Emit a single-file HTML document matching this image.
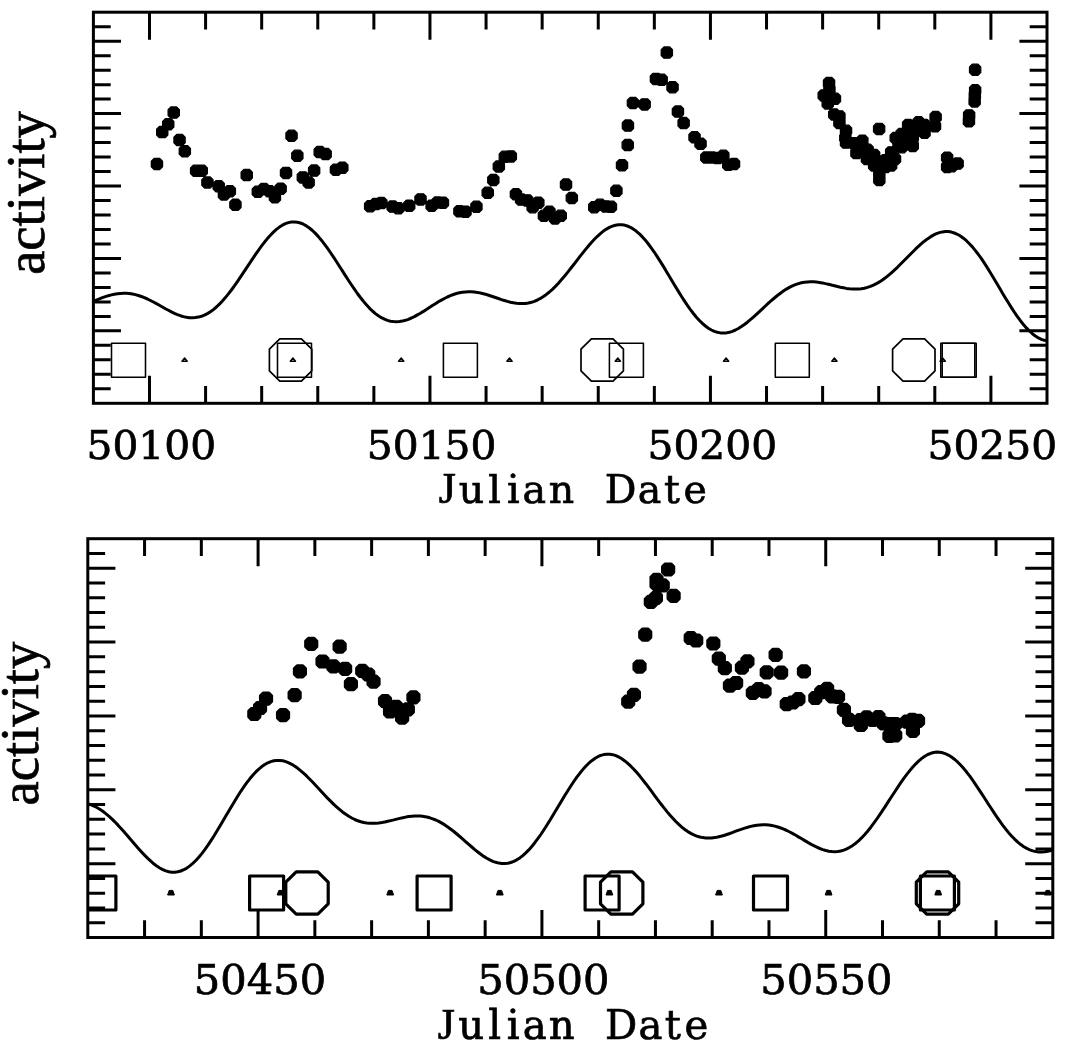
<!DOCTYPE html>
<html><head><meta charset="utf-8"><title>activity vs Julian Date</title>
<style>html,body{margin:0;padding:0;background:#fff}svg{display:block}.tk{font-family:"DejaVu Serif","Liberation Serif",serif;font-size:39.4px;fill:#000;stroke:#000;stroke-width:.7px;text-anchor:middle}.ax{font-family:"DejaVu Serif","Liberation Serif",serif;font-size:39.5px;fill:#000;stroke:#000;stroke-width:.7px;text-anchor:middle}.J{font-family:"Liberation Serif",serif;font-size:44px}.yl{font-family:"Liberation Serif",serif;font-size:54.6px;fill:#000;stroke:#000;stroke-width:.7px;text-anchor:middle}</style></head><body>
<svg width="1070" height="1060" viewBox="0 0 1070 1060">
<rect width="1070" height="1060" fill="#fff"/>
<g id="panel1">
<polyline points="93.4,301.3 96.4,300.1 99.4,298.9 102.4,297.7 105.4,296.7 108.4,295.7 111.4,294.9 114.4,294.2 117.4,293.7 120.4,293.4 123.4,293.2 126.4,293.3 129.4,293.5 132.4,294.0 135.4,294.6 138.4,295.5 141.4,296.5 144.4,297.7 147.4,299.0 150.4,300.5 153.4,302.0 156.4,303.6 159.4,305.3 162.4,307.0 165.4,308.7 168.4,310.3 171.4,311.9 174.4,313.3 177.4,314.6 180.4,315.7 183.4,316.6 186.4,317.3 189.4,317.7 192.4,317.8 195.4,317.6 198.4,317.1 201.4,316.3 204.4,315.1 207.4,313.6 210.4,311.8 213.4,309.6 216.4,307.0 219.4,304.2 222.4,301.0 225.4,297.6 228.4,293.9 231.4,290.0 234.4,285.9 237.4,281.6 240.4,277.2 243.4,272.7 246.4,268.1 249.4,263.6 252.4,259.1 255.4,254.6 258.4,250.3 261.4,246.2 264.4,242.3 267.4,238.6 270.4,235.2 273.4,232.1 276.4,229.4 279.4,227.1 282.4,225.2 285.4,223.7 288.4,222.6 291.4,222.0 294.4,221.9 297.4,222.2 300.4,223.0 303.4,224.2 306.4,225.9 309.4,228.0 312.4,230.5 315.4,233.4 318.4,236.6 321.4,240.2 324.4,244.1 327.4,248.2 330.4,252.5 333.4,256.9 336.4,261.5 339.4,266.2 342.4,270.9 345.4,275.6 348.4,280.2 351.4,284.8 354.4,289.2 357.4,293.5 360.4,297.5 363.4,301.3 366.4,304.8 369.4,308.1 372.4,311.0 375.4,313.6 378.4,315.8 381.4,317.7 384.4,319.2 387.4,320.4 390.4,321.2 393.4,321.6 396.4,321.8 399.4,321.6 402.4,321.1 405.4,320.3 408.4,319.3 411.4,318.0 414.4,316.6 417.4,314.9 420.4,313.2 423.4,311.4 426.4,309.4 429.4,307.5 432.4,305.6 435.4,303.7 438.4,301.8 441.4,300.1 444.4,298.5 447.4,297.0 450.4,295.7 453.4,294.5 456.4,293.5 459.4,292.8 462.4,292.2 465.4,291.9 468.4,291.7 471.4,291.8 474.4,292.0 477.4,292.4 480.4,293.0 483.4,293.7 486.4,294.5 489.4,295.5 492.4,296.5 495.4,297.5 498.4,298.5 501.4,299.6 504.4,300.5 507.4,301.4 510.4,302.2 513.4,302.8 516.4,303.3 519.4,303.5 522.4,303.6 525.4,303.4 528.4,303.0 531.4,302.3 534.4,301.3 537.4,300.0 540.4,298.4 543.4,296.5 546.4,294.4 549.4,292.0 552.4,289.3 555.4,286.4 558.4,283.2 561.4,279.8 564.4,276.3 567.4,272.6 570.4,268.8 573.4,265.0 576.4,261.1 579.4,257.2 582.4,253.4 585.4,249.6 588.4,246.0 591.4,242.5 594.4,239.3 597.4,236.3 600.4,233.6 603.4,231.1 606.4,229.1 609.4,227.4 612.4,226.1 615.4,225.2 618.4,224.7 621.4,224.7 624.4,225.1 627.4,226.0 630.4,227.3 633.4,229.1 636.4,231.3 639.4,233.9 642.4,236.9 645.4,240.3 648.4,244.0 651.4,248.1 654.4,252.3 657.4,256.9 660.4,261.6 663.4,266.4 666.4,271.4 669.4,276.4 672.4,281.5 675.4,286.5 678.4,291.4 681.4,296.3 684.4,300.9 687.4,305.4 690.4,309.6 693.4,313.5 696.4,317.2 699.4,320.5 702.4,323.4 705.4,326.0 708.4,328.2 711.4,330.0 714.4,331.4 717.4,332.3 720.4,332.9 723.4,333.1 726.4,332.9 729.4,332.3 732.4,331.3 735.4,330.0 738.4,328.5 741.4,326.6 744.4,324.5 747.4,322.2 750.4,319.7 753.4,317.1 756.4,314.4 759.4,311.6 762.4,308.8 765.4,306.0 768.4,303.2 771.4,300.5 774.4,298.0 777.4,295.5 780.4,293.2 783.4,291.1 786.4,289.1 789.4,287.4 792.4,285.9 795.4,284.7 798.4,283.6 801.4,282.8 804.4,282.3 807.4,281.9 810.4,281.8 813.4,281.8 816.4,282.1 819.4,282.4 822.4,282.9 825.4,283.6 828.4,284.2 831.4,285.0 834.4,285.7 837.4,286.5 840.4,287.2 843.4,287.8 846.4,288.4 849.4,288.8 852.4,289.0 855.4,289.1 858.4,289.0 861.4,288.7 864.4,288.2 867.4,287.4 870.4,286.4 873.4,285.1 876.4,283.7 879.4,281.9 882.4,280.0 885.4,277.8 888.4,275.4 891.4,272.8 894.4,270.1 897.4,267.3 900.4,264.3 903.4,261.3 906.4,258.2 909.4,255.2 912.4,252.2 915.4,249.2 918.4,246.4 921.4,243.7 924.4,241.2 927.4,238.9 930.4,236.9 933.4,235.1 936.4,233.7 939.4,232.6 942.4,231.9 945.4,231.6 948.4,231.6 951.4,232.1 954.4,233.0 957.4,234.3 960.4,236.0 963.4,238.2 966.4,240.7 969.4,243.7 972.4,246.9 975.4,250.6 978.4,254.5 981.4,258.7 984.4,263.2 987.4,267.9 990.4,272.7 993.4,277.7 996.4,282.7 999.4,287.8 1002.4,292.9 1005.4,297.9 1008.4,302.8 1011.4,307.6 1014.4,312.2 1017.4,316.6 1020.4,320.7 1023.4,324.5 1026.4,327.9 1029.4,331.0 1032.4,333.7 1035.4,336.0 1038.4,337.9 1041.4,339.3 1044.4,340.3 1047.0,340.8" fill="none" stroke="#000" stroke-width="3.0" stroke-linejoin="round"/>
<rect x="111.5" y="343.2" width="34.0" height="34.0" fill="none" stroke="#000" stroke-width="1.55" stroke-linejoin="round"/>
<rect x="277.5" y="343.2" width="34.0" height="34.0" fill="none" stroke="#000" stroke-width="1.55" stroke-linejoin="round"/>
<rect x="443.4" y="343.2" width="34.0" height="34.0" fill="none" stroke="#000" stroke-width="1.55" stroke-linejoin="round"/>
<rect x="609.4" y="343.2" width="34.0" height="34.0" fill="none" stroke="#000" stroke-width="1.55" stroke-linejoin="round"/>
<rect x="775.3" y="343.2" width="34.0" height="34.0" fill="none" stroke="#000" stroke-width="1.55" stroke-linejoin="round"/>
<rect x="940.8" y="343.2" width="34.0" height="34.0" fill="none" stroke="#000" stroke-width="1.55" stroke-linejoin="round"/>
<rect x="942.2" y="343.2" width="34.0" height="34.0" fill="none" stroke="#000" stroke-width="1.55" stroke-linejoin="round"/>
<polygon points="279.8,338.8 301.4,338.8 311.8,349.2 311.8,370.8 301.4,381.2 279.8,381.2 269.4,370.8 269.4,349.2" fill="none" stroke="#000" stroke-width="1.7" stroke-linejoin="round"/>
<polygon points="591.4,338.8 613.0,338.8 623.4,349.2 623.4,370.8 613.0,381.2 591.4,381.2 581.0,370.8 581.0,349.2" fill="none" stroke="#000" stroke-width="1.7" stroke-linejoin="round"/>
<polygon points="903.0,338.8 924.6,338.8 935.0,349.2 935.0,370.8 924.6,381.2 903.0,381.2 892.6,370.8 892.6,349.2" fill="none" stroke="#000" stroke-width="1.7" stroke-linejoin="round"/>
<polygon points="184.6,358.1 187.2,361.2 182.0,361.2" fill="none" stroke="#000" stroke-width="1.5" stroke-linejoin="round"/>
<polygon points="292.9,358.1 295.5,361.2 290.3,361.2" fill="none" stroke="#000" stroke-width="1.5" stroke-linejoin="round"/>
<polygon points="401.2,358.1 403.8,361.2 398.6,361.2" fill="none" stroke="#000" stroke-width="1.5" stroke-linejoin="round"/>
<polygon points="509.5,358.1 512.1,361.2 506.9,361.2" fill="none" stroke="#000" stroke-width="1.5" stroke-linejoin="round"/>
<polygon points="617.8,358.1 620.4,361.2 615.2,361.2" fill="none" stroke="#000" stroke-width="1.5" stroke-linejoin="round"/>
<polygon points="726.1,358.1 728.7,361.2 723.5,361.2" fill="none" stroke="#000" stroke-width="1.5" stroke-linejoin="round"/>
<polygon points="834.4,358.1 837.0,361.2 831.8,361.2" fill="none" stroke="#000" stroke-width="1.5" stroke-linejoin="round"/>
<polygon points="942.7,358.1 945.3,361.2 940.1,361.2" fill="none" stroke="#000" stroke-width="1.5" stroke-linejoin="round"/>
<path d="M154.1 158.4h5.66l2.77 2.77v5.66l-2.77 2.77h-5.66l-2.77 -2.77v-5.66zM159.4 126.5h5.66l2.77 2.77v5.66l-2.77 2.77h-5.66l-2.77 -2.77v-5.66zM165.4 118.7h5.66l2.77 2.77v5.66l-2.77 2.77h-5.66l-2.77 -2.77v-5.66zM170.9 107.0h5.66l2.77 2.77v5.66l-2.77 2.77h-5.66l-2.77 -2.77v-5.66zM176.7 134.4h5.66l2.77 2.77v5.66l-2.77 2.77h-5.66l-2.77 -2.77v-5.66zM182.0 145.7h5.66l2.77 2.77v5.66l-2.77 2.77h-5.66l-2.77 -2.77v-5.66zM193.3 165.2h5.66l2.77 2.77v5.66l-2.77 2.77h-5.66l-2.77 -2.77v-5.66zM198.9 165.2h5.66l2.77 2.77v5.66l-2.77 2.77h-5.66l-2.77 -2.77v-5.66zM204.6 176.9h5.66l2.77 2.77v5.66l-2.77 2.77h-5.66l-2.77 -2.77v-5.66zM215.9 180.6h5.66l2.77 2.77v5.66l-2.77 2.77h-5.66l-2.77 -2.77v-5.66zM221.1 188.8h5.66l2.77 2.77v5.66l-2.77 2.77h-5.66l-2.77 -2.77v-5.66zM227.0 185.6h5.66l2.77 2.77v5.66l-2.77 2.77h-5.66l-2.77 -2.77v-5.66zM232.6 199.1h5.66l2.77 2.77v5.66l-2.77 2.77h-5.66l-2.77 -2.77v-5.66zM243.9 169.5h5.66l2.77 2.77v5.66l-2.77 2.77h-5.66l-2.77 -2.77v-5.66zM255.0 186.2h5.66l2.77 2.77v5.66l-2.77 2.77h-5.66l-2.77 -2.77v-5.66zM261.0 183.5h5.66l2.77 2.77v5.66l-2.77 2.77h-5.66l-2.77 -2.77v-5.66zM266.7 185.6h5.66l2.77 2.77v5.66l-2.77 2.77h-5.66l-2.77 -2.77v-5.66zM272.1 191.7h5.66l2.77 2.77v5.66l-2.77 2.77h-5.66l-2.77 -2.77v-5.66zM277.8 183.1h5.66l2.77 2.77v5.66l-2.77 2.77h-5.66l-2.77 -2.77v-5.66zM283.2 167.3h5.66l2.77 2.77v5.66l-2.77 2.77h-5.66l-2.77 -2.77v-5.66zM288.7 130.2h5.66l2.77 2.77v5.66l-2.77 2.77h-5.66l-2.77 -2.77v-5.66zM294.5 150.2h5.66l2.77 2.77v5.66l-2.77 2.77h-5.66l-2.77 -2.77v-5.66zM300.0 171.8h5.66l2.77 2.77v5.66l-2.77 2.77h-5.66l-2.77 -2.77v-5.66zM305.8 176.9h5.66l2.77 2.77v5.66l-2.77 2.77h-5.66l-2.77 -2.77v-5.66zM311.3 165.0h5.66l2.77 2.77v5.66l-2.77 2.77h-5.66l-2.77 -2.77v-5.66zM316.9 146.5h5.66l2.77 2.77v5.66l-2.77 2.77h-5.66l-2.77 -2.77v-5.66zM322.8 148.5h5.66l2.77 2.77v5.66l-2.77 2.77h-5.66l-2.77 -2.77v-5.66zM333.1 164.2h5.66l2.77 2.77v5.66l-2.77 2.77h-5.66l-2.77 -2.77v-5.66zM339.5 162.1h5.66l2.77 2.77v5.66l-2.77 2.77h-5.66l-2.77 -2.77v-5.66zM367.3 200.6h5.66l2.77 2.77v5.66l-2.77 2.77h-5.66l-2.77 -2.77v-5.66zM372.9 198.5h5.66l2.77 2.77v5.66l-2.77 2.77h-5.66l-2.77 -2.77v-5.66zM378.5 197.5h5.66l2.77 2.77v5.66l-2.77 2.77h-5.66l-2.77 -2.77v-5.66zM389.8 201.0h5.66l2.77 2.77v5.66l-2.77 2.77h-5.66l-2.77 -2.77v-5.66zM395.5 202.6h5.66l2.77 2.77v5.66l-2.77 2.77h-5.66l-2.77 -2.77v-5.66zM406.4 200.1h5.66l2.77 2.77v5.66l-2.77 2.77h-5.66l-2.77 -2.77v-5.66zM417.7 193.8h5.66l2.77 2.77v5.66l-2.77 2.77h-5.66l-2.77 -2.77v-5.66zM428.8 200.1h5.66l2.77 2.77v5.66l-2.77 2.77h-5.66l-2.77 -2.77v-5.66zM434.6 196.9h5.66l2.77 2.77v5.66l-2.77 2.77h-5.66l-2.77 -2.77v-5.66zM440.1 197.1h5.66l2.77 2.77v5.66l-2.77 2.77h-5.66l-2.77 -2.77v-5.66zM456.6 205.7h5.66l2.77 2.77v5.66l-2.77 2.77h-5.66l-2.77 -2.77v-5.66zM462.7 206.1h5.66l2.77 2.77v5.66l-2.77 2.77h-5.66l-2.77 -2.77v-5.66zM473.6 201.2h5.66l2.77 2.77v5.66l-2.77 2.77h-5.66l-2.77 -2.77v-5.66zM484.9 187.2h5.66l2.77 2.77v5.66l-2.77 2.77h-5.66l-2.77 -2.77v-5.66zM490.5 174.4h5.66l2.77 2.77v5.66l-2.77 2.77h-5.66l-2.77 -2.77v-5.66zM496.0 160.9h5.66l2.77 2.77v5.66l-2.77 2.77h-5.66l-2.77 -2.77v-5.66zM502.0 151.2h5.66l2.77 2.77v5.66l-2.77 2.77h-5.66l-2.77 -2.77v-5.66zM508.0 150.8h5.66l2.77 2.77v5.66l-2.77 2.77h-5.66l-2.77 -2.77v-5.66zM513.1 188.6h5.66l2.77 2.77v5.66l-2.77 2.77h-5.66l-2.77 -2.77v-5.66zM518.3 194.0h5.66l2.77 2.77v5.66l-2.77 2.77h-5.66l-2.77 -2.77v-5.66zM524.4 194.8h5.66l2.77 2.77v5.66l-2.77 2.77h-5.66l-2.77 -2.77v-5.66zM529.8 201.6h5.66l2.77 2.77v5.66l-2.77 2.77h-5.66l-2.77 -2.77v-5.66zM535.5 197.1h5.66l2.77 2.77v5.66l-2.77 2.77h-5.66l-2.77 -2.77v-5.66zM541.1 210.2h5.66l2.77 2.77v5.66l-2.77 2.77h-5.66l-2.77 -2.77v-5.66zM546.6 206.1h5.66l2.77 2.77v5.66l-2.77 2.77h-5.66l-2.77 -2.77v-5.66zM552.2 212.9h5.66l2.77 2.77v5.66l-2.77 2.77h-5.66l-2.77 -2.77v-5.66zM557.9 210.2h5.66l2.77 2.77v5.66l-2.77 2.77h-5.66l-2.77 -2.77v-5.66zM563.2 179.0h5.66l2.77 2.77v5.66l-2.77 2.77h-5.66l-2.77 -2.77v-5.66zM569.0 192.4h5.66l2.77 2.77v5.66l-2.77 2.77h-5.66l-2.77 -2.77v-5.66zM591.4 201.6h5.66l2.77 2.77v5.66l-2.77 2.77h-5.66l-2.77 -2.77v-5.66zM597.2 199.2h5.66l2.77 2.77v5.66l-2.77 2.77h-5.66l-2.77 -2.77v-5.66zM602.7 200.8h5.66l2.77 2.77v5.66l-2.77 2.77h-5.66l-2.77 -2.77v-5.66zM608.1 201.2h5.66l2.77 2.77v5.66l-2.77 2.77h-5.66l-2.77 -2.77v-5.66zM613.6 185.2h5.66l2.77 2.77v5.66l-2.77 2.77h-5.66l-2.77 -2.77v-5.66zM619.2 159.7h5.66l2.77 2.77v5.66l-2.77 2.77h-5.66l-2.77 -2.77v-5.66zM624.9 139.5h5.66l2.77 2.77v5.66l-2.77 2.77h-5.66l-2.77 -2.77v-5.66zM625.1 120.0h5.66l2.77 2.77v5.66l-2.77 2.77h-5.66l-2.77 -2.77v-5.66zM630.1 97.4h5.66l2.77 2.77v5.66l-2.77 2.77h-5.66l-2.77 -2.77v-5.66zM641.8 98.8h5.66l2.77 2.77v5.66l-2.77 2.77h-5.66l-2.77 -2.77v-5.66zM653.1 73.3h5.66l2.77 2.77v5.66l-2.77 2.77h-5.66l-2.77 -2.77v-5.66zM658.8 74.2h5.66l2.77 2.77v5.66l-2.77 2.77h-5.66l-2.77 -2.77v-5.66zM664.0 47.0h5.66l2.77 2.77v5.66l-2.77 2.77h-5.66l-2.77 -2.77v-5.66zM669.7 81.6h5.66l2.77 2.77v5.66l-2.77 2.77h-5.66l-2.77 -2.77v-5.66zM675.1 106.0h5.66l2.77 2.77v5.66l-2.77 2.77h-5.66l-2.77 -2.77v-5.66zM680.8 117.5h5.66l2.77 2.77v5.66l-2.77 2.77h-5.66l-2.77 -2.77v-5.66zM691.7 131.7h5.66l2.77 2.77v5.66l-2.77 2.77h-5.66l-2.77 -2.77v-5.66zM697.7 138.1h5.66l2.77 2.77v5.66l-2.77 2.77h-5.66l-2.77 -2.77v-5.66zM703.5 151.9h5.66l2.77 2.77v5.66l-2.77 2.77h-5.66l-2.77 -2.77v-5.66zM709.0 151.9h5.66l2.77 2.77v5.66l-2.77 2.77h-5.66l-2.77 -2.77v-5.66zM714.8 152.5h5.66l2.77 2.77v5.66l-2.77 2.77h-5.66l-2.77 -2.77v-5.66zM720.5 150.2h5.66l2.77 2.77v5.66l-2.77 2.77h-5.66l-2.77 -2.77v-5.66zM725.4 159.1h5.66l2.77 2.77v5.66l-2.77 2.77h-5.66l-2.77 -2.77v-5.66zM731.2 158.4h5.66l2.77 2.77v5.66l-2.77 2.77h-5.66l-2.77 -2.77v-5.66zM826.2 77.5h5.66l2.77 2.77v5.66l-2.77 2.77h-5.66l-2.77 -2.77v-5.66zM826.6 84.0h5.66l2.77 2.77v5.66l-2.77 2.77h-5.66l-2.77 -2.77v-5.66zM820.9 89.9h5.66l2.77 2.77v5.66l-2.77 2.77h-5.66l-2.77 -2.77v-5.66zM832.1 93.2h5.66l2.77 2.77v5.66l-2.77 2.77h-5.66l-2.77 -2.77v-5.66zM824.9 97.8h5.66l2.77 2.77v5.66l-2.77 2.77h-5.66l-2.77 -2.77v-5.66zM831.4 108.9h5.66l2.77 2.77v5.66l-2.77 2.77h-5.66l-2.77 -2.77v-5.66zM836.6 110.8h5.66l2.77 2.77v5.66l-2.77 2.77h-5.66l-2.77 -2.77v-5.66zM836.6 117.4h5.66l2.77 2.77v5.66l-2.77 2.77h-5.66l-2.77 -2.77v-5.66zM843.2 125.2h5.66l2.77 2.77v5.66l-2.77 2.77h-5.66l-2.77 -2.77v-5.66zM842.5 132.4h5.66l2.77 2.77v5.66l-2.77 2.77h-5.66l-2.77 -2.77v-5.66zM843.2 137.0h5.66l2.77 2.77v5.66l-2.77 2.77h-5.66l-2.77 -2.77v-5.66zM851.0 137.7h5.66l2.77 2.77v5.66l-2.77 2.77h-5.66l-2.77 -2.77v-5.66zM859.5 135.1h5.66l2.77 2.77v5.66l-2.77 2.77h-5.66l-2.77 -2.77v-5.66zM853.6 147.5h5.66l2.77 2.77v5.66l-2.77 2.77h-5.66l-2.77 -2.77v-5.66zM859.5 142.9h5.66l2.77 2.77v5.66l-2.77 2.77h-5.66l-2.77 -2.77v-5.66zM864.1 153.4h5.66l2.77 2.77v5.66l-2.77 2.77h-5.66l-2.77 -2.77v-5.66zM864.8 144.2h5.66l2.77 2.77v5.66l-2.77 2.77h-5.66l-2.77 -2.77v-5.66zM871.3 149.4h5.66l2.77 2.77v5.66l-2.77 2.77h-5.66l-2.77 -2.77v-5.66zM871.3 159.9h5.66l2.77 2.77v5.66l-2.77 2.77h-5.66l-2.77 -2.77v-5.66zM876.5 156.0h5.66l2.77 2.77v5.66l-2.77 2.77h-5.66l-2.77 -2.77v-5.66zM876.5 167.8h5.66l2.77 2.77v5.66l-2.77 2.77h-5.66l-2.77 -2.77v-5.66zM876.5 174.3h5.66l2.77 2.77v5.66l-2.77 2.77h-5.66l-2.77 -2.77v-5.66zM876.3 123.3h5.66l2.77 2.77v5.66l-2.77 2.77h-5.66l-2.77 -2.77v-5.66zM888.3 146.8h5.66l2.77 2.77v5.66l-2.77 2.77h-5.66l-2.77 -2.77v-5.66zM888.3 159.9h5.66l2.77 2.77v5.66l-2.77 2.77h-5.66l-2.77 -2.77v-5.66zM892.2 153.4h5.66l2.77 2.77v5.66l-2.77 2.77h-5.66l-2.77 -2.77v-5.66zM892.9 132.4h5.66l2.77 2.77v5.66l-2.77 2.77h-5.66l-2.77 -2.77v-5.66zM898.8 128.5h5.66l2.77 2.77v5.66l-2.77 2.77h-5.66l-2.77 -2.77v-5.66zM898.8 141.6h5.66l2.77 2.77v5.66l-2.77 2.77h-5.66l-2.77 -2.77v-5.66zM905.3 119.4h5.66l2.77 2.77v5.66l-2.77 2.77h-5.66l-2.77 -2.77v-5.66zM905.3 129.8h5.66l2.77 2.77v5.66l-2.77 2.77h-5.66l-2.77 -2.77v-5.66zM909.9 140.3h5.66l2.77 2.77v5.66l-2.77 2.77h-5.66l-2.77 -2.77v-5.66zM909.9 132.4h5.66l2.77 2.77v5.66l-2.77 2.77h-5.66l-2.77 -2.77v-5.66zM915.8 116.7h5.66l2.77 2.77v5.66l-2.77 2.77h-5.66l-2.77 -2.77v-5.66zM915.8 124.6h5.66l2.77 2.77v5.66l-2.77 2.77h-5.66l-2.77 -2.77v-5.66zM921.7 127.2h5.66l2.77 2.77v5.66l-2.77 2.77h-5.66l-2.77 -2.77v-5.66zM921.7 119.4h5.66l2.77 2.77v5.66l-2.77 2.77h-5.66l-2.77 -2.77v-5.66zM932.8 111.5h5.66l2.77 2.77v5.66l-2.77 2.77h-5.66l-2.77 -2.77v-5.66zM932.2 120.7h5.66l2.77 2.77v5.66l-2.77 2.77h-5.66l-2.77 -2.77v-5.66zM882.4 154.7h5.66l2.77 2.77v5.66l-2.77 2.77h-5.66l-2.77 -2.77v-5.66zM882.7 161.4h5.66l2.77 2.77v5.66l-2.77 2.77h-5.66l-2.77 -2.77v-5.66zM901.4 137.7h5.66l2.77 2.77v5.66l-2.77 2.77h-5.66l-2.77 -2.77v-5.66zM895.7 137.9h5.66l2.77 2.77v5.66l-2.77 2.77h-5.66l-2.77 -2.77v-5.66zM972.3 64.2h5.66l2.77 2.77v5.66l-2.77 2.77h-5.66l-2.77 -2.77v-5.66zM972.3 84.7h5.66l2.77 2.77v5.66l-2.77 2.77h-5.66l-2.77 -2.77v-5.66zM972.0 90.0h5.66l2.77 2.77v5.66l-2.77 2.77h-5.66l-2.77 -2.77v-5.66zM971.8 95.9h5.66l2.77 2.77v5.66l-2.77 2.77h-5.66l-2.77 -2.77v-5.66zM966.3 109.8h5.66l2.77 2.77v5.66l-2.77 2.77h-5.66l-2.77 -2.77v-5.66zM966.1 115.7h5.66l2.77 2.77v5.66l-2.77 2.77h-5.66l-2.77 -2.77v-5.66zM944.3 152.1h5.66l2.77 2.77v5.66l-2.77 2.77h-5.66l-2.77 -2.77v-5.66zM944.3 161.3h5.66l2.77 2.77v5.66l-2.77 2.77h-5.66l-2.77 -2.77v-5.66zM954.8 158.0h5.66l2.77 2.77v5.66l-2.77 2.77h-5.66l-2.77 -2.77v-5.66zM948.9 160.6h5.66l2.77 2.77v5.66l-2.77 2.77h-5.66l-2.77 -2.77v-5.66z" fill="#000" stroke="#000" stroke-width="1.3" stroke-linejoin="round"/>
<rect x="93.4" y="12.2" width="953.60" height="391.10" fill="none" stroke="#000" stroke-width="3.0"/>
<path d="M93.4 26.69h17.3M1047.0 26.69h-17.3M93.4 41.17h27.6M1047.0 41.17h-27.6M93.4 55.66h17.3M1047.0 55.66h-17.3M93.4 70.14h17.3M1047.0 70.14h-17.3M93.4 84.63h17.3M1047.0 84.63h-17.3M93.4 99.11h17.3M1047.0 99.11h-17.3M93.4 113.60h27.6M1047.0 113.60h-27.6M93.4 128.08h17.3M1047.0 128.08h-17.3M93.4 142.57h17.3M1047.0 142.57h-17.3M93.4 157.05h17.3M1047.0 157.05h-17.3M93.4 171.54h17.3M1047.0 171.54h-17.3M93.4 186.02h27.6M1047.0 186.02h-27.6M93.4 200.51h17.3M1047.0 200.51h-17.3M93.4 214.99h17.3M1047.0 214.99h-17.3M93.4 229.48h17.3M1047.0 229.48h-17.3M93.4 243.96h17.3M1047.0 243.96h-17.3M93.4 258.45h27.6M1047.0 258.45h-27.6M93.4 272.93h17.3M1047.0 272.93h-17.3M93.4 287.42h17.3M1047.0 287.42h-17.3M93.4 301.90h17.3M1047.0 301.90h-17.3M93.4 316.39h17.3M1047.0 316.39h-17.3M93.4 330.87h27.6M1047.0 330.87h-27.6M93.4 345.36h17.3M1047.0 345.36h-17.3M93.4 359.84h17.3M1047.0 359.84h-17.3M93.4 374.33h17.3M1047.0 374.33h-17.3M93.4 388.81h17.3M1047.0 388.81h-17.3M149.49 12.2v27.6M149.49 403.3v-27.6M205.59 12.2v17.3M205.59 403.3v-17.3M261.68 12.2v17.3M261.68 403.3v-17.3M317.78 12.2v17.3M317.78 403.3v-17.3M373.87 12.2v17.3M373.87 403.3v-17.3M429.96 12.2v27.6M429.96 403.3v-27.6M486.06 12.2v17.3M486.06 403.3v-17.3M542.15 12.2v17.3M542.15 403.3v-17.3M598.25 12.2v17.3M598.25 403.3v-17.3M654.34 12.2v17.3M654.34 403.3v-17.3M710.44 12.2v27.6M710.44 403.3v-27.6M766.53 12.2v17.3M766.53 403.3v-17.3M822.62 12.2v17.3M822.62 403.3v-17.3M878.72 12.2v17.3M878.72 403.3v-17.3M934.81 12.2v17.3M934.81 403.3v-17.3M990.91 12.2v27.6M990.91 403.3v-27.6" stroke="#000" stroke-width="3.0" fill="none"/>
<text class="tk" transform="translate(151.3,459) scale(1.035,1)">50100</text>
<text class="tk" transform="translate(431.6,459) scale(1.035,1)">50150</text>
<text class="tk" transform="translate(712.3,459) scale(1.035,1)">50200</text>
<text class="tk" transform="translate(992.3,459) scale(1.035,1)">50250</text>
<text class="ax" y="502.9" x="447.2 471.6 494.6 513.3 534.4 561.4 590 620.6 649.5 671.9 695.3"><tspan class="J">J</tspan>ulian Date</text>
<text class="yl" transform="translate(44.3,193) rotate(-90)">activity</text>
</g>
<g id="panel2">
<clipPath id="c2"><rect x="87.8" y="538.7" width="965.0" height="398.8"/></clipPath>
<g clip-path="url(#c2)">
<polyline points="87.8,803.8 90.8,804.7 93.8,806.0 96.8,807.5 99.8,809.3 102.8,811.3 105.8,813.6 108.8,816.1 111.8,818.9 114.8,821.8 117.8,824.9 120.8,828.2 123.8,831.5 126.8,835.0 129.8,838.5 132.8,842.0 135.8,845.5 138.8,848.9 141.8,852.2 144.8,855.4 147.8,858.4 150.8,861.2 153.8,863.8 156.8,866.1 159.8,868.0 162.8,869.6 165.8,870.9 168.8,871.7 171.8,872.2 174.8,872.2 177.8,871.8 180.8,871.0 183.8,869.7 186.8,868.1 189.8,865.9 192.8,863.4 195.8,860.5 198.8,857.2 201.8,853.6 204.8,849.6 207.8,845.4 210.8,840.9 213.8,836.2 216.8,831.3 219.8,826.3 222.8,821.2 225.8,816.1 228.8,810.9 231.8,805.9 234.8,800.9 237.8,796.0 240.8,791.3 243.8,786.9 246.8,782.7 249.8,778.8 252.8,775.2 255.8,771.9 258.8,769.1 261.8,766.6 264.8,764.5 267.8,762.8 270.8,761.6 273.8,760.8 276.8,760.4 279.8,760.4 282.8,760.8 285.8,761.6 288.8,762.8 291.8,764.3 294.8,766.2 297.8,768.3 300.8,770.8 303.8,773.4 306.8,776.2 309.8,779.2 312.8,782.3 315.8,785.5 318.8,788.7 321.8,792.0 324.8,795.2 327.8,798.4 330.8,801.4 333.8,804.4 336.8,807.1 339.8,809.7 342.8,812.2 345.8,814.3 348.8,816.3 351.8,818.0 354.8,819.5 357.8,820.8 360.8,821.7 363.8,822.5 366.8,823.0 369.8,823.3 372.8,823.3 375.8,823.2 378.8,822.9 381.8,822.5 384.8,822.0 387.8,821.3 390.8,820.6 393.8,819.9 396.8,819.1 399.8,818.4 402.8,817.7 405.8,817.1 408.8,816.6 411.8,816.2 414.8,816.0 417.8,816.0 420.8,816.1 423.8,816.5 426.8,817.0 429.8,817.8 432.8,818.8 435.8,820.0 438.8,821.4 441.8,823.1 444.8,824.9 447.8,827.0 450.8,829.2 453.8,831.5 456.8,834.0 459.8,836.5 462.8,839.1 465.8,841.8 468.8,844.4 471.8,847.0 474.8,849.6 477.8,852.0 480.8,854.3 483.8,856.4 486.8,858.2 489.8,859.9 492.8,861.3 495.8,862.3 498.8,863.1 501.8,863.5 504.8,863.5 507.8,863.2 510.8,862.5 513.8,861.3 516.8,859.8 519.8,857.9 522.8,855.6 525.8,852.9 528.8,849.9 531.8,846.5 534.8,842.7 537.8,838.7 540.8,834.5 543.8,830.0 546.8,825.3 549.8,820.5 552.8,815.5 555.8,810.5 558.8,805.5 561.8,800.5 564.8,795.5 567.8,790.7 570.8,786.0 573.8,781.5 576.8,777.2 579.8,773.3 582.8,769.6 585.8,766.2 588.8,763.2 591.8,760.7 594.8,758.5 597.8,756.7 600.8,755.4 603.8,754.6 606.8,754.2 609.8,754.2 612.8,754.7 615.8,755.7 618.8,757.0 621.8,758.8 624.8,760.9 627.8,763.4 630.8,766.2 633.8,769.2 636.8,772.6 639.8,776.1 642.8,779.9 645.8,783.7 648.8,787.7 651.8,791.7 654.8,795.8 657.8,799.8 660.8,803.8 663.8,807.6 666.8,811.4 669.8,815.0 672.8,818.3 675.8,821.5 678.8,824.4 681.8,827.1 684.8,829.5 687.8,831.6 690.8,833.4 693.8,834.9 696.8,836.1 699.8,837.0 702.8,837.6 705.8,838.0 708.8,838.1 711.8,837.9 714.8,837.6 717.8,837.0 720.8,836.3 723.8,835.5 726.8,834.5 729.8,833.5 732.8,832.4 735.8,831.2 738.8,830.1 741.8,829.1 744.8,828.1 747.8,827.2 750.8,826.4 753.8,825.7 756.8,825.2 759.8,824.9 762.8,824.7 765.8,824.8 768.8,825.0 771.8,825.5 774.8,826.1 777.8,827.0 780.8,828.0 783.8,829.2 786.8,830.5 789.8,832.0 792.8,833.6 795.8,835.3 798.8,837.1 801.8,838.8 804.8,840.6 807.8,842.4 810.8,844.1 813.8,845.7 816.8,847.2 819.8,848.5 822.8,849.6 825.8,850.5 828.8,851.2 831.8,851.6 834.8,851.7 837.8,851.5 840.8,851.0 843.8,850.1 846.8,848.9 849.8,847.3 852.8,845.4 855.8,843.2 858.8,840.6 861.8,837.7 864.8,834.5 867.8,831.0 870.8,827.2 873.8,823.2 876.8,819.0 879.8,814.7 882.8,810.2 885.8,805.6 888.8,800.9 891.8,796.3 894.8,791.7 897.8,787.1 900.8,782.7 903.8,778.4 906.8,774.4 909.8,770.6 912.8,767.0 915.8,763.8 918.8,760.9 921.8,758.4 924.8,756.2 927.8,754.5 930.8,753.3 933.8,752.5 936.8,752.1 939.8,752.2 942.8,752.8 945.8,753.8 948.8,755.3 951.8,757.2 954.8,759.5 957.8,762.2 960.8,765.2 963.8,768.6 966.8,772.3 969.8,776.2 972.8,780.4 975.8,784.8 978.8,789.3 981.8,793.9 984.8,798.5 987.8,803.2 990.8,807.8 993.8,812.4 996.8,816.8 999.8,821.2 1002.8,825.3 1005.8,829.2 1008.8,832.9 1011.8,836.2 1014.8,839.3 1017.8,842.1 1020.8,844.6 1023.8,846.7 1026.8,848.4 1029.8,849.8 1032.8,850.9 1035.8,851.6 1038.8,852.0 1041.8,852.1 1044.8,851.8 1047.8,851.3 1050.8,850.5 1052.8,849.9" fill="none" stroke="#000" stroke-width="3.0" stroke-linejoin="round"/>
<rect x="81.9" y="876.0" width="34.0" height="34.0" fill="none" stroke="#000" stroke-width="3.2" stroke-linejoin="round"/>
<rect x="249.6" y="876.0" width="34.0" height="34.0" fill="none" stroke="#000" stroke-width="3.2" stroke-linejoin="round"/>
<rect x="417.1" y="876.0" width="34.0" height="34.0" fill="none" stroke="#000" stroke-width="3.2" stroke-linejoin="round"/>
<rect x="585.1" y="876.0" width="34.0" height="34.0" fill="none" stroke="#000" stroke-width="3.2" stroke-linejoin="round"/>
<rect x="753.5" y="876.0" width="34.0" height="34.0" fill="none" stroke="#000" stroke-width="3.2" stroke-linejoin="round"/>
<rect x="920.4" y="876.0" width="34.0" height="34.0" fill="none" stroke="#000" stroke-width="3.2" stroke-linejoin="round"/>
<polygon points="296.2,871.8 317.8,871.8 328.2,882.2 328.2,903.8 317.8,914.2 296.2,914.2 285.8,903.8 285.8,882.2" fill="none" stroke="#000" stroke-width="3.2" stroke-linejoin="round"/>
<polygon points="610.9,871.8 632.5,871.8 642.9,882.2 642.9,903.8 632.5,914.2 610.9,914.2 600.5,903.8 600.5,882.2" fill="none" stroke="#000" stroke-width="3.2" stroke-linejoin="round"/>
<polygon points="926.7,871.8 948.3,871.8 958.7,882.2 958.7,903.8 948.3,914.2 926.7,914.2 916.3,903.8 916.3,882.2" fill="none" stroke="#000" stroke-width="3.2" stroke-linejoin="round"/>
<polygon points="169.2,890.4 172.8,890.4 174.4,895.0 167.6,895.0" fill="#000" stroke="#000" stroke-width="1" stroke-linejoin="round"/>
<polygon points="278.8,890.4 282.4,890.4 284.0,895.0 277.2,895.0" fill="#000" stroke="#000" stroke-width="1" stroke-linejoin="round"/>
<polygon points="388.4,890.4 392.0,890.4 393.6,895.0 386.8,895.0" fill="#000" stroke="#000" stroke-width="1" stroke-linejoin="round"/>
<polygon points="498.0,890.4 501.6,890.4 503.2,895.0 496.4,895.0" fill="#000" stroke="#000" stroke-width="1" stroke-linejoin="round"/>
<polygon points="607.6,890.4 611.2,890.4 612.8,895.0 606.0,895.0" fill="#000" stroke="#000" stroke-width="1" stroke-linejoin="round"/>
<polygon points="717.2,890.4 720.8,890.4 722.4,895.0 715.6,895.0" fill="#000" stroke="#000" stroke-width="1" stroke-linejoin="round"/>
<polygon points="826.8,890.4 830.4,890.4 832.0,895.0 825.2,895.0" fill="#000" stroke="#000" stroke-width="1" stroke-linejoin="round"/>
<polygon points="936.4,890.4 940.0,890.4 941.6,895.0 934.8,895.0" fill="#000" stroke="#000" stroke-width="1" stroke-linejoin="round"/>
<polygon points="1046.0,890.4 1049.6,890.4 1051.2,895.0 1044.4,895.0" fill="#000" stroke="#000" stroke-width="1" stroke-linejoin="round"/>
</g>
<path d="M251.5 708.4h5.66l2.77 2.77v5.66l-2.77 2.77h-5.66l-2.77 -2.77v-5.66zM257.2 702.4h5.66l2.77 2.77v5.66l-2.77 2.77h-5.66l-2.77 -2.77v-5.66zM263.2 693.1h5.66l2.77 2.77v5.66l-2.77 2.77h-5.66l-2.77 -2.77v-5.66zM280.2 709.6h5.66l2.77 2.77v5.66l-2.77 2.77h-5.66l-2.77 -2.77v-5.66zM291.8 689.6h5.66l2.77 2.77v5.66l-2.77 2.77h-5.66l-2.77 -2.77v-5.66zM297.1 665.8h5.66l2.77 2.77v5.66l-2.77 2.77h-5.66l-2.77 -2.77v-5.66zM308.4 638.2h5.66l2.77 2.77v5.66l-2.77 2.77h-5.66l-2.77 -2.77v-5.66zM319.7 655.9h5.66l2.77 2.77v5.66l-2.77 2.77h-5.66l-2.77 -2.77v-5.66zM330.6 660.7h5.66l2.77 2.77v5.66l-2.77 2.77h-5.66l-2.77 -2.77v-5.66zM336.8 641.1h5.66l2.77 2.77v5.66l-2.77 2.77h-5.66l-2.77 -2.77v-5.66zM342.3 663.3h5.66l2.77 2.77v5.66l-2.77 2.77h-5.66l-2.77 -2.77v-5.66zM348.1 678.5h5.66l2.77 2.77v5.66l-2.77 2.77h-5.66l-2.77 -2.77v-5.66zM359.4 665.2h5.66l2.77 2.77v5.66l-2.77 2.77h-5.66l-2.77 -2.77v-5.66zM365.4 668.9h5.66l2.77 2.77v5.66l-2.77 2.77h-5.66l-2.77 -2.77v-5.66zM370.7 676.1h5.66l2.77 2.77v5.66l-2.77 2.77h-5.66l-2.77 -2.77v-5.66zM382.2 695.6h5.66l2.77 2.77v5.66l-2.77 2.77h-5.66l-2.77 -2.77v-5.66zM387.2 705.9h5.66l2.77 2.77v5.66l-2.77 2.77h-5.66l-2.77 -2.77v-5.66zM393.3 701.2h5.66l2.77 2.77v5.66l-2.77 2.77h-5.66l-2.77 -2.77v-5.66zM399.3 712.1h5.66l2.77 2.77v5.66l-2.77 2.77h-5.66l-2.77 -2.77v-5.66zM405.0 703.8h5.66l2.77 2.77v5.66l-2.77 2.77h-5.66l-2.77 -2.77v-5.66zM410.6 691.7h5.66l2.77 2.77v5.66l-2.77 2.77h-5.66l-2.77 -2.77v-5.66zM625.4 696.1h5.66l2.77 2.77v5.66l-2.77 2.77h-5.66l-2.77 -2.77v-5.66zM631.1 689.3h5.66l2.77 2.77v5.66l-2.77 2.77h-5.66l-2.77 -2.77v-5.66zM636.7 661.0h5.66l2.77 2.77v5.66l-2.77 2.77h-5.66l-2.77 -2.77v-5.66zM642.4 629.1h5.66l2.77 2.77v5.66l-2.77 2.77h-5.66l-2.77 -2.77v-5.66zM648.0 596.2h5.66l2.77 2.77v5.66l-2.77 2.77h-5.66l-2.77 -2.77v-5.66zM653.1 592.3h5.66l2.77 2.77v5.66l-2.77 2.77h-5.66l-2.77 -2.77v-5.66zM653.7 574.2h5.66l2.77 2.77v5.66l-2.77 2.77h-5.66l-2.77 -2.77v-5.66zM653.7 578.3h5.66l2.77 2.77v5.66l-2.77 2.77h-5.66l-2.77 -2.77v-5.66zM659.9 579.8h5.66l2.77 2.77v5.66l-2.77 2.77h-5.66l-2.77 -2.77v-5.66zM665.3 563.9h5.66l2.77 2.77v5.66l-2.77 2.77h-5.66l-2.77 -2.77v-5.66zM670.8 590.2h5.66l2.77 2.77v5.66l-2.77 2.77h-5.66l-2.77 -2.77v-5.66zM687.9 632.4h5.66l2.77 2.77v5.66l-2.77 2.77h-5.66l-2.77 -2.77v-5.66zM693.4 634.9h5.66l2.77 2.77v5.66l-2.77 2.77h-5.66l-2.77 -2.77v-5.66zM710.5 637.9h5.66l2.77 2.77v5.66l-2.77 2.77h-5.66l-2.77 -2.77v-5.66zM716.0 653.0h5.66l2.77 2.77v5.66l-2.77 2.77h-5.66l-2.77 -2.77v-5.66zM722.0 662.6h5.66l2.77 2.77v5.66l-2.77 2.77h-5.66l-2.77 -2.77v-5.66zM727.1 680.1h5.66l2.77 2.77v5.66l-2.77 2.77h-5.66l-2.77 -2.77v-5.66zM733.3 677.4h5.66l2.77 2.77v5.66l-2.77 2.77h-5.66l-2.77 -2.77v-5.66zM739.1 662.0h5.66l2.77 2.77v5.66l-2.77 2.77h-5.66l-2.77 -2.77v-5.66zM744.6 655.8h5.66l2.77 2.77v5.66l-2.77 2.77h-5.66l-2.77 -2.77v-5.66zM750.0 687.3h5.66l2.77 2.77v5.66l-2.77 2.77h-5.66l-2.77 -2.77v-5.66zM755.9 683.6h5.66l2.77 2.77v5.66l-2.77 2.77h-5.66l-2.77 -2.77v-5.66zM761.7 685.8h5.66l2.77 2.77v5.66l-2.77 2.77h-5.66l-2.77 -2.77v-5.66zM763.9 666.7h5.66l2.77 2.77v5.66l-2.77 2.77h-5.66l-2.77 -2.77v-5.66zM772.8 649.3h5.66l2.77 2.77v5.66l-2.77 2.77h-5.66l-2.77 -2.77v-5.66zM778.3 667.1h5.66l2.77 2.77v5.66l-2.77 2.77h-5.66l-2.77 -2.77v-5.66zM783.9 698.6h5.66l2.77 2.77v5.66l-2.77 2.77h-5.66l-2.77 -2.77v-5.66zM789.8 696.9h5.66l2.77 2.77v5.66l-2.77 2.77h-5.66l-2.77 -2.77v-5.66zM795.6 693.5h5.66l2.77 2.77v5.66l-2.77 2.77h-5.66l-2.77 -2.77v-5.66zM801.1 665.7h5.66l2.77 2.77v5.66l-2.77 2.77h-5.66l-2.77 -2.77v-5.66zM812.5 692.4h5.66l2.77 2.77v5.66l-2.77 2.77h-5.66l-2.77 -2.77v-5.66zM818.4 686.6h5.66l2.77 2.77v5.66l-2.77 2.77h-5.66l-2.77 -2.77v-5.66zM824.3 683.2h5.66l2.77 2.77v5.66l-2.77 2.77h-5.66l-2.77 -2.77v-5.66zM829.4 690.8h5.66l2.77 2.77v5.66l-2.77 2.77h-5.66l-2.77 -2.77v-5.66zM835.2 691.3h5.66l2.77 2.77v5.66l-2.77 2.77h-5.66l-2.77 -2.77v-5.66zM841.1 704.2h5.66l2.77 2.77v5.66l-2.77 2.77h-5.66l-2.77 -2.77v-5.66zM846.2 714.3h5.66l2.77 2.77v5.66l-2.77 2.77h-5.66l-2.77 -2.77v-5.66zM858.0 719.4h5.66l2.77 2.77v5.66l-2.77 2.77h-5.66l-2.77 -2.77v-5.66zM858.0 714.4h5.66l2.77 2.77v5.66l-2.77 2.77h-5.66l-2.77 -2.77v-5.66zM863.8 711.8h5.66l2.77 2.77v5.66l-2.77 2.77h-5.66l-2.77 -2.77v-5.66zM869.7 714.3h5.66l2.77 2.77v5.66l-2.77 2.77h-5.66l-2.77 -2.77v-5.66zM875.6 711.5h5.66l2.77 2.77v5.66l-2.77 2.77h-5.66l-2.77 -2.77v-5.66zM880.7 717.7h5.66l2.77 2.77v5.66l-2.77 2.77h-5.66l-2.77 -2.77v-5.66zM886.6 730.3h5.66l2.77 2.77v5.66l-2.77 2.77h-5.66l-2.77 -2.77v-5.66zM892.4 729.8h5.66l2.77 2.77v5.66l-2.77 2.77h-5.66l-2.77 -2.77v-5.66zM886.6 718.5h5.66l2.77 2.77v5.66l-2.77 2.77h-5.66l-2.77 -2.77v-5.66zM892.4 718.5h5.66l2.77 2.77v5.66l-2.77 2.77h-5.66l-2.77 -2.77v-5.66zM904.2 716.0h5.66l2.77 2.77v5.66l-2.77 2.77h-5.66l-2.77 -2.77v-5.66zM910.1 725.2h5.66l2.77 2.77v5.66l-2.77 2.77h-5.66l-2.77 -2.77v-5.66zM915.2 715.2h5.66l2.77 2.77v5.66l-2.77 2.77h-5.66l-2.77 -2.77v-5.66zM909.3 714.3h5.66l2.77 2.77v5.66l-2.77 2.77h-5.66l-2.77 -2.77v-5.66z" fill="#000" stroke="#000" stroke-width="3.0" stroke-linejoin="round"/>
<rect x="87.8" y="538.7" width="965.00" height="398.80" fill="none" stroke="#000" stroke-width="3.0"/>
<path d="M87.8 553.47h17.3M1052.8 553.47h-17.3M87.8 568.24h27.6M1052.8 568.24h-27.6M87.8 583.01h17.3M1052.8 583.01h-17.3M87.8 597.78h17.3M1052.8 597.78h-17.3M87.8 612.55h17.3M1052.8 612.55h-17.3M87.8 627.32h17.3M1052.8 627.32h-17.3M87.8 642.09h27.6M1052.8 642.09h-27.6M87.8 656.86h17.3M1052.8 656.86h-17.3M87.8 671.63h17.3M1052.8 671.63h-17.3M87.8 686.40h17.3M1052.8 686.40h-17.3M87.8 701.17h17.3M1052.8 701.17h-17.3M87.8 715.94h27.6M1052.8 715.94h-27.6M87.8 730.71h17.3M1052.8 730.71h-17.3M87.8 745.49h17.3M1052.8 745.49h-17.3M87.8 760.26h17.3M1052.8 760.26h-17.3M87.8 775.03h17.3M1052.8 775.03h-17.3M87.8 789.80h27.6M1052.8 789.80h-27.6M87.8 804.57h17.3M1052.8 804.57h-17.3M87.8 819.34h17.3M1052.8 819.34h-17.3M87.8 834.11h17.3M1052.8 834.11h-17.3M87.8 848.88h17.3M1052.8 848.88h-17.3M87.8 863.65h27.6M1052.8 863.65h-27.6M87.8 878.42h17.3M1052.8 878.42h-17.3M87.8 893.19h17.3M1052.8 893.19h-17.3M87.8 907.96h17.3M1052.8 907.96h-17.3M87.8 922.73h17.3M1052.8 922.73h-17.3M144.56 538.7v17.3M144.56 937.5v-17.3M201.33 538.7v17.3M201.33 937.5v-17.3M258.09 538.7v27.6M258.09 937.5v-27.6M314.86 538.7v17.3M314.86 937.5v-17.3M371.62 538.7v17.3M371.62 937.5v-17.3M428.39 538.7v17.3M428.39 937.5v-17.3M485.15 538.7v17.3M485.15 937.5v-17.3M541.92 538.7v27.6M541.92 937.5v-27.6M598.68 538.7v17.3M598.68 937.5v-17.3M655.45 538.7v17.3M655.45 937.5v-17.3M712.21 538.7v17.3M712.21 937.5v-17.3M768.98 538.7v17.3M768.98 937.5v-17.3M825.74 538.7v27.6M825.74 937.5v-27.6M882.51 538.7v17.3M882.51 937.5v-17.3M939.27 538.7v17.3M939.27 937.5v-17.3M996.04 538.7v17.3M996.04 937.5v-17.3" stroke="#000" stroke-width="3.0" fill="none"/>
<text class="tk" transform="translate(260,994.3) scale(1.035,1)" style="font-size:40.2px">50450</text>
<text class="tk" transform="translate(543.4,994.3) scale(1.035,1)" style="font-size:40.2px">50500</text>
<text class="tk" transform="translate(826.4,994.3) scale(1.035,1)" style="font-size:40.2px">50550</text>
<text class="ax" y="1038.5" x="446.3 471.3 494.6 513.3 534.7 561.7 590 621 650.5 672.8 696.5" style="font-size:40.2px"><tspan class="J">J</tspan>ulian Date</text>
<text class="yl" transform="translate(38,723.6) rotate(-90)">activity</text>
</g>
</svg></body></html>
